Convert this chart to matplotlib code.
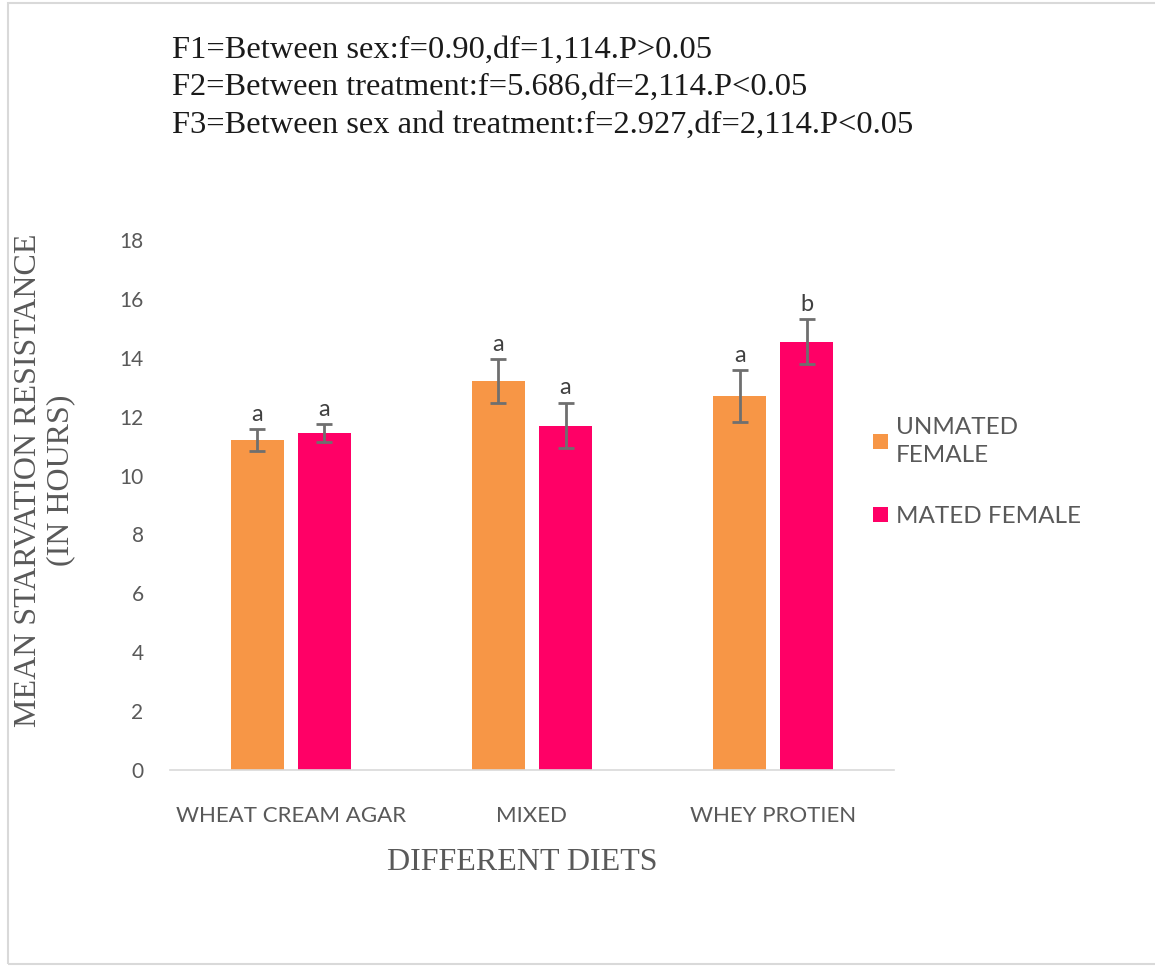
import matplotlib
matplotlib.use("Agg")
import matplotlib.pyplot as plt
from matplotlib.patches import Rectangle
import numpy as np

categories = ["WHEAT CREAM AGAR", "MIXED", "WHEY PROTIEN"]
series_names = ["UNMATED\nFEMALE", "MATED FEMALE"]
unmated = [11.2, 13.2, 12.7]
mated = [11.45, 11.7, 14.55]
unmated_err = [0.38, 0.75, 0.88]
mated_err = [0.3, 0.78, 0.76]
unmated_sig = ["a", "a", "a"]
mated_sig = ["a", "a", "b"]
yticks = [0, 2, 4, 6, 8, 10, 12, 14, 16, 18]
header = ["F1=Between sex:f=0.90,df=1,114.P>0.05",
          "F2=Between treatment:f=5.686,df=2,114.P<0.05",
          "F3=Between sex and treatment:f=2.927,df=2,114.P<0.05"]

orange = "#F79646"
pink = "#FF0066"
grey_txt = "#595959"
serif = ["Liberation Serif", "DejaVu Serif"]
sans = ["Lato", "DejaVu Sans"]

fig = plt.figure(figsize=(11.55, 9.67), dpi=100)
W, H = 1155, 967
ax = fig.add_axes([170 / W, 1 - 770 / H, (894 - 170) / W, (770 - 240) / H])

x = np.arange(len(categories))
off = 0.139
bw = 0.22
ax.bar(x - off, unmated, bw, color=orange, label=series_names[0], zorder=2)
ax.bar(x + off, mated, bw, color=pink, label=series_names[1], zorder=2)
ax.errorbar(x - off, unmated, yerr=unmated_err, fmt="none", ecolor="#6f6f6f",
            elinewidth=2, capsize=6, capthick=2, zorder=3)
ax.errorbar(x + off, mated, yerr=mated_err, fmt="none", ecolor="#6f6f6f",
            elinewidth=2, capsize=6, capthick=2, zorder=3)
for xi, v, e, s in zip(x - off, unmated, unmated_err, unmated_sig):
    ax.annotate(s, (xi, v + e), xytext=(0, 3), textcoords="offset points",
                ha="center", va="bottom", fontsize=17, color="#404040", family=sans)
for xi, v, e, s in zip(x + off, mated, mated_err, mated_sig):
    ax.annotate(s, (xi, v + e), xytext=(0, 3), textcoords="offset points",
                ha="center", va="bottom", fontsize=17, color="#404040", family=sans)

ax.set_xlim(-0.5, 2.5)
ax.set_ylim(0, 18)
ax.set_yticks(yticks)
ax.set_yticklabels([str(t) for t in yticks], family=sans, fontsize=15, color=grey_txt)
ax.set_xticks(x)
ax.set_xticklabels(categories, family=sans, fontsize=16, color=grey_txt)
ax.tick_params(axis="both", length=0)
ax.tick_params(axis="y", pad=19)
ax.tick_params(axis="x", pad=26)
for sp in ["top", "right", "left"]:
    ax.spines[sp].set_visible(False)
ax.spines["bottom"].set_color("#d9d9d9")
ax.spines["bottom"].set_linewidth(1.2)

fig.text(45 / W, 1 - 480 / H, "MEAN STARVATION RESISTANCE\n(IN HOURS)", rotation=90,
         ha="center", va="center", family=serif, fontsize=23, color=grey_txt,
         linespacing=1.15)
fig.text(522 / W, 1 - 862 / H, "DIFFERENT DIETS", ha="center", va="center",
         family=serif, fontsize=23, color=grey_txt)

for i, line in enumerate(header):
    fig.text(172 / W, 1 - (50 + 37.5 * i) / H, line, ha="left", va="center",
             family=serif, fontsize=23.4, color="#1a1a1a")

aw = 894 - 170
leg = ax.legend(loc="upper left", bbox_to_anchor=((873 - 170) / aw, 1 - (417 - 240) / 530),
                frameon=False, prop={"family": sans, "size": 17.5},
                handlelength=0.6, handleheight=0.6, handletextpad=0.35,
                labelspacing=1.65, borderaxespad=0, borderpad=0)
for t in leg.get_texts():
    t.set_color(grey_txt)
    t.set_linespacing(1.4)

fig.add_artist(Rectangle((8 / W, 0.003), 1.2, 1 - 0.003 - 3 / H, transform=fig.transFigure,
                         fill=False, edgecolor="#d9d9d9", linewidth=1.5))

fig.savefig("out.png", dpi=100, facecolor="white")
